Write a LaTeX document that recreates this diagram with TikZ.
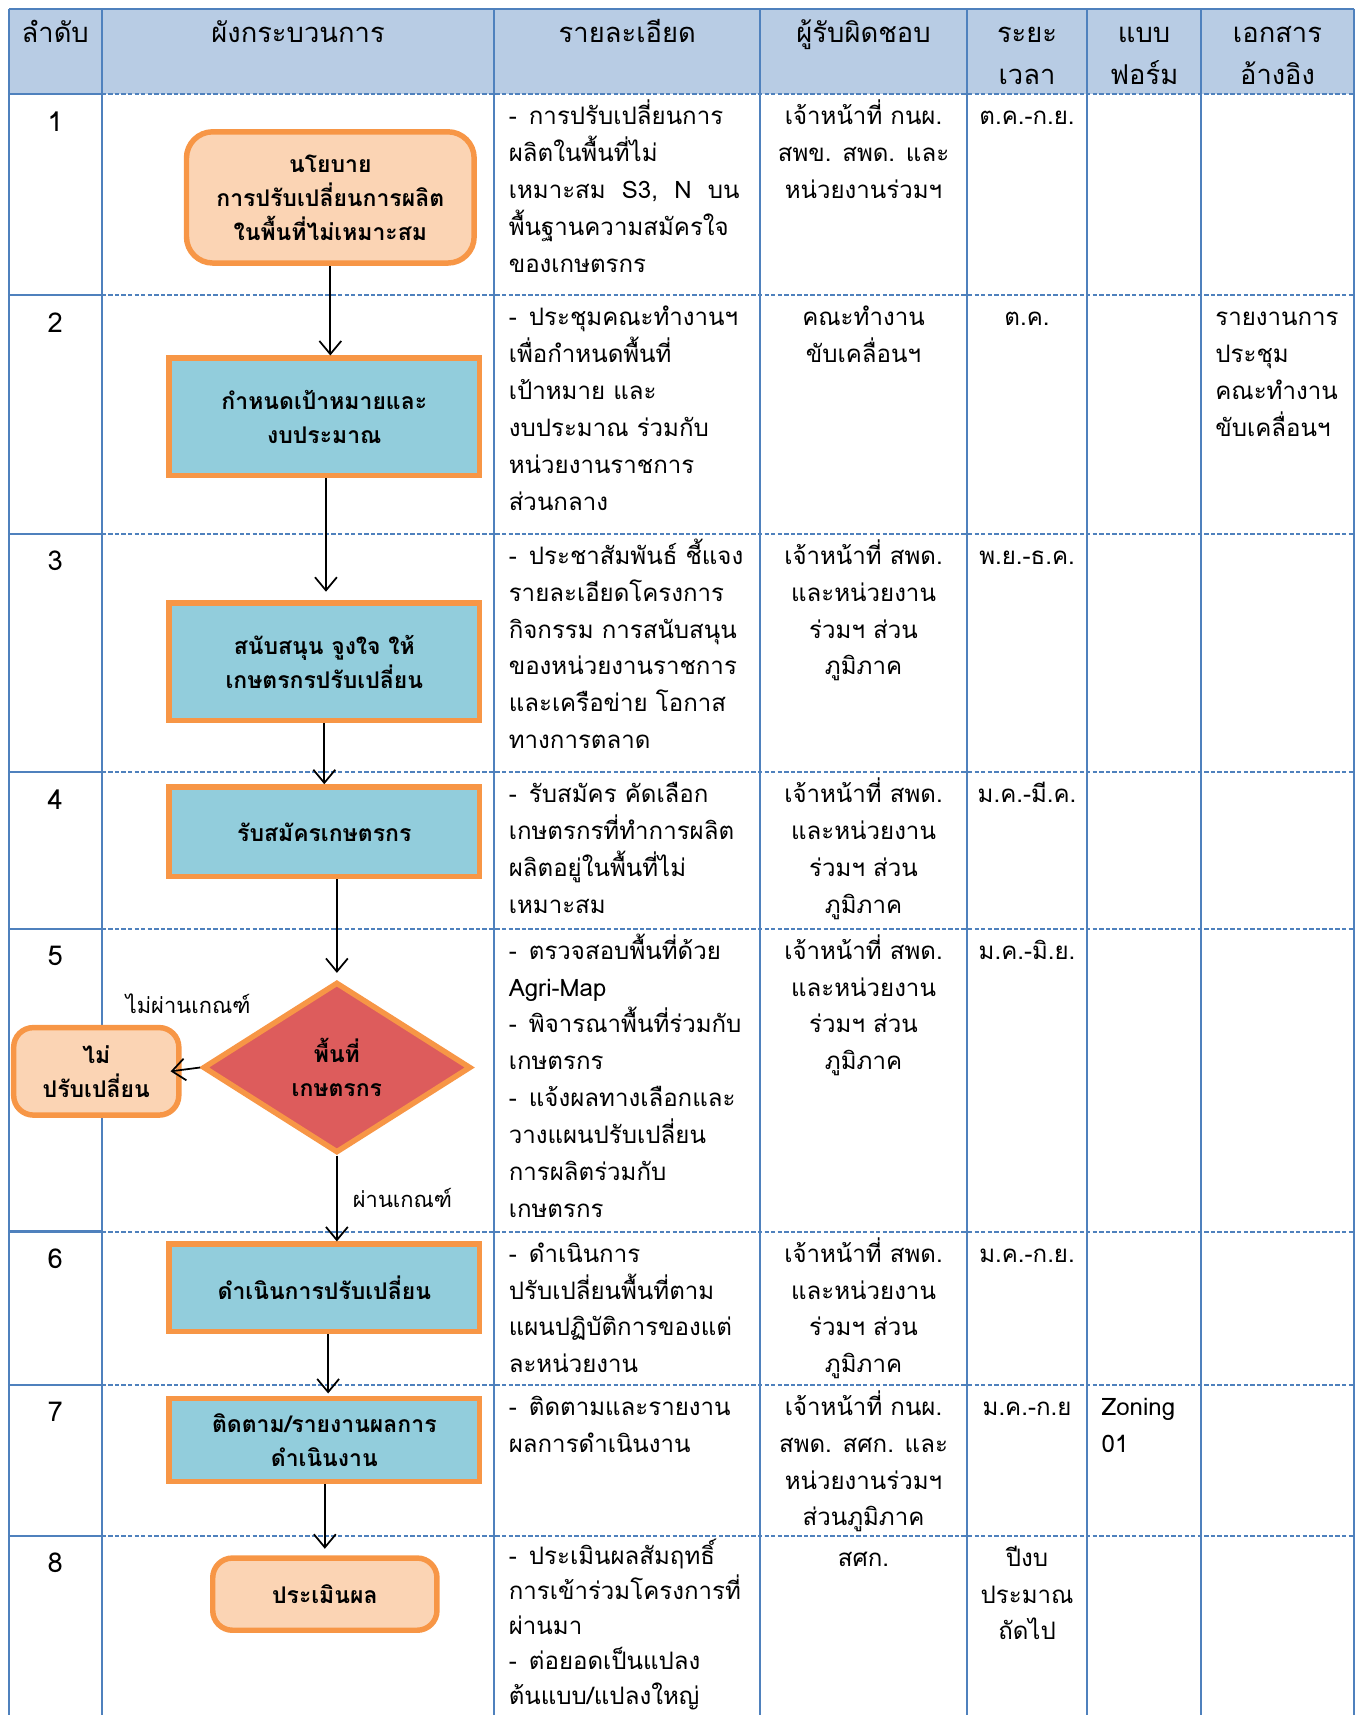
\documentclass[tikz,border=0pt]{standalone}
\usepackage{fontspec}
\setmainfont[Script=Thai]{Loma}
\usetikzlibrary{shapes.geometric,arrows.meta}
\definecolor{tblue}{HTML}{4F81BD}
\definecolor{hdr}{HTML}{B8CCE4}
\definecolor{orng}{HTML}{F79646}
\definecolor{peach}{HTML}{FBD4B4}
\definecolor{cyanbox}{HTML}{92CDDC}
\definecolor{redd}{HTML}{DD5C5C}
\newcommand\bodyfont{\fontsize{22}{33.7}\selectfont}
\newcommand\hdrfont{\fontsize{25}{38}\selectfont}
\newcommand\boxfont{\fontsize{21}{31}\selectfont\bfseries}
\newcommand\txl[1]{\parbox[t]{300pt}{\raggedright\bodyfont #1}}
\newcommand\txltight[1]{\parbox[t]{300pt}{\raggedright\fontsize{22}{32}\selectfont #1}}
\newcommand\txc[1]{\parbox[t]{240pt}{\centering\bodyfont #1}}
\newcommand\txh[1]{\parbox[t]{200pt}{\centering\hdrfont #1}}
\begin{document}
\begin{tikzpicture}[x=1pt,y=-1pt,
  tline/.style={draw=tblue,line width=2pt},
  dline/.style={draw=tblue,line width=1.8pt,dash pattern=on 4pt off 2pt},
  cellL/.style={anchor=base west,inner sep=0pt},
  cellC/.style={anchor=base,inner sep=0pt},
  boxr/.style={rectangle,draw=orng,line width=5pt,fill=cyanbox,font=\boxfont,align=center,inner sep=0pt},
  boxp/.style={rectangle,rounded corners=24pt,draw=orng,line width=5pt,fill=peach,font=\boxfont,align=center,inner sep=0pt},
  dia/.style={diamond,draw=orng,line width=5pt,fill=redd,font=\boxfont,align=center,inner sep=0pt},
  arr/.style={-{Straight Barb[length=12pt,width=20pt]},line width=1.6pt,black},
  lbl/.style={font=\fontsize{20}{24}\selectfont,inner sep=0pt}]
\useasboundingbox (0,0) rectangle (1245,1568);
\clip (0,0) rectangle (1245,1568);
% header
\fill[hdr] (8,8) rectangle (1238,86);
\foreach \x in {8,93,452,695,884,994,1098,1238} {\draw[tline] (\x,8) -- (\x,1570);}
\draw[tline] (8,8) -- (1238,8);
\foreach \y in {86,270,488,706,849,1126,1266,1404} {
  \draw[tline] (8,\y) -- (93,\y);
  \draw[dline] (93,\y) -- (1238,\y);
}
\node[cellC] (h1) at (50.5,39) {\txh{ลำดับ}};
\node[cellC] (h2) at (272.5,39) {\txh{ผังกระบวนการ}};
\node[cellC] (h3) at (573.5,39) {\txh{รายละเอียด}};
\node[cellC] (h4) at (789.5,39) {\txh{ผู้รับผิดชอบ}};
\node[cellC] (h5) at (939,39) {\txh{ระยะ\\เวลา}};
\node[cellC] (h6) at (1046,39) {\txh{แบบ\\ฟอร์ม}};
\node[cellC] (h7) at (1168,39) {\txh{เอกสาร\\อ้างอิง}};
% numbers
\foreach \n/\y in {1/120,2/304,3/522,4/740,5/883,6/1160,7/1300,8/1438}
  {\node[cellC] (num\n) at (50.5,\y) {\txh{\n}};}
% details
\node[cellL] (d1) at (465,114) {\txl{-\, การปรับเปลี่ยนการ\\ผลิตในพื้นที่ไม่\\เหมาะสม\ \ S3,\ \ N\ \ บน\\พื้นฐานความสมัครใจ\\ของเกษตรกร}};
\node[cellL] (d2) at (465,298) {\txl{-\, ประชุมคณะทำงานฯ\\เพื่อกำหนดพื้นที่\\เป้าหมาย และ\\งบประมาณ ร่วมกับ\\หน่วยงานราชการ\\ส่วนกลาง}};
\node[cellL] (d3) at (465,516) {\txl{-\, ประชาสัมพันธ์ ชี้แจง\\รายละเอียดโครงการ\\กิจกรรม การสนับสนุน\\ของหน่วยงานราชการ\\และเครือข่าย โอกาส\\ทางการตลาด}};
\node[cellL] (d4) at (465,734) {\txl{-\, รับสมัคร คัดเลือก\\เกษตรกรที่ทำการผลิต\\ผลิตอยู่ในพื้นที่ไม่\\เหมาะสม}};
\node[cellL] (d5) at (465,877) {\txl{-\, ตรวจสอบพื้นที่ด้วย\\Agri-Map\\-\, พิจารณาพื้นที่ร่วมกับ\\เกษตรกร\\-\, แจ้งผลทางเลือกและ\\วางแผนปรับเปลี่ยน\\การผลิตร่วมกับ\\เกษตรกร}};
\node[cellL] (d6) at (465,1154) {\txl{-\, ดำเนินการ\\ปรับเปลี่ยนพื้นที่ตาม\\แผนปฏิบัติการของแต่\\ละหน่วยงาน}};
\node[cellL] (d7) at (465,1294) {\txl{-\, ติดตามและรายงาน\\ผลการดำเนินงาน}};
\node[cellL] (d8) at (465,1430) {\txltight{-\, ประเมินผลสัมฤทธิ์\\การเข้าร่วมโครงการที่\\ผ่านมา\\-\, ต่อยอดเป็นแปลง\\ต้นแบบ/แปลงใหญ่}};
% responsible
\node[cellC] (r1) at (789.5,114) {\txc{เจ้าหน้าที่ กนผ.\\สพข. สพด. และ\\หน่วยงานร่วมฯ}};
\node[cellC] (r2) at (789.5,298) {\txc{คณะทำงาน\\ขับเคลื่อนฯ}};
\node[cellC] (r3) at (789.5,516) {\txc{เจ้าหน้าที่ สพด.\\และหน่วยงาน\\ร่วมฯ ส่วน\\ภูมิภาค}};
\node[cellC] (r4) at (789.5,734) {\txc{เจ้าหน้าที่ สพด.\\และหน่วยงาน\\ร่วมฯ ส่วน\\ภูมิภาค}};
\node[cellC] (r5) at (789.5,877) {\txc{เจ้าหน้าที่ สพด.\\และหน่วยงาน\\ร่วมฯ ส่วน\\ภูมิภาค}};
\node[cellC] (r6) at (789.5,1154) {\txc{เจ้าหน้าที่ สพด.\\และหน่วยงาน\\ร่วมฯ ส่วน\\ภูมิภาค}};
\node[cellC] (r7) at (789.5,1294) {\txc{เจ้าหน้าที่ กนผ.\\สพด. สศก. และ\\หน่วยงานร่วมฯ\\ส่วนภูมิภาค}};
\node[cellC] (r8) at (789.5,1432) {\txc{สศก.}};
% time
\node[cellC] (t1) at (939,114) {\txc{ต.ค.-ก.ย.}};
\node[cellC] (t2) at (939,298) {\txc{ต.ค.}};
\node[cellC] (t3) at (939,516) {\txc{พ.ย.-ธ.ค.}};
\node[cellC] (t4) at (939,734) {\txc{ม.ค.-มี.ค.}};
\node[cellC] (t5) at (939,877) {\txc{ม.ค.-มิ.ย.}};
\node[cellC] (t6) at (939,1154) {\txc{ม.ค.-ก.ย.}};
\node[cellC] (t7) at (939,1294) {\txc{ม.ค.-ก.ย}};
\node[cellC] (t8) at (939,1432) {\txc{ปีงบ\\ประมาณ\\ถัดไป}};
% form / reference
\node[cellL] (f7) at (1007,1294) {\txl{Zoning\\01}};
\node[cellL] (ref2) at (1111,298) {\txl{รายงานการ\\ประชุม\\คณะทำงาน\\ขับเคลื่อนฯ}};
% flowchart
\node[boxp,minimum width=263pt,minimum height=120pt] (n1) at (302,180.5) {นโยบาย\\การปรับเปลี่ยนการผลิต\\ในพื้นที่ไม่เหมาะสม};
\node[boxr,minimum width=284pt,minimum height=107pt] (n2) at (296.5,381) {กำหนดเป้าหมายและ\\งบประมาณ};
\node[boxr,minimum width=284pt,minimum height=107pt] (n3) at (296.5,605) {สนับสนุน จูงใจ ให้\\เกษตรกรปรับเปลี่ยน};
\node[boxr,minimum width=284pt,minimum height=82pt] (n4) at (296.5,760.5) {รับสมัครเกษตรกร};
\node[dia,minimum width=245pt,minimum height=156pt,aspect=1.6] (n5) at (308,976) {พื้นที่\\เกษตรกร};
\node[boxp,minimum width=151pt,minimum height=80pt,rounded corners=18pt] (n6) at (88,979.5) {ไม่\\ปรับเปลี่ยน};
\node[boxr,minimum width=284pt,minimum height=80pt] (n7) at (296.5,1177.5) {ดำเนินการปรับเปลี่ยน};
\node[boxr,minimum width=284pt,minimum height=76pt] (n8) at (296.5,1316.5) {ติดตาม/รายงานผลการ\\ดำเนินงาน};
\node[boxp,minimum width=205pt,minimum height=66pt,rounded corners=18pt] (n9) at (297,1457.5) {ประเมินผล};
\node[lbl] (l1) at (172,918) {ไม่ผ่านเกณฑ์};
\node[lbl] (l2) at (368,1095) {ผ่านเกณฑ์};
% connectors
\draw[arr] (n1.south) -- (n1.south |- n2.north);
\draw[arr] ([xshift=1.5pt]n2.south) -- ([xshift=1.5pt,yshift=8pt]n2.south |- n3.north);
\draw[arr] (n3.south) -- (n3.south |- n4.north);
\draw[arr] (n5.north |- n4.south) -- ([yshift=6pt]n5.north);
\draw[arr] (n5.west) -- ([xshift=-10pt]n6.east);
\draw[arr] (n5.south) -- (n5.south |- n7.north);
\draw[arr] ([xshift=3.5pt]n7.south) -- ([xshift=3.5pt,yshift=2pt]n7.south |- n8.north);
\draw[arr] (n9.north |- n8.south) -- ([yshift=6pt]n9.north);
\end{tikzpicture}
\end{document}
